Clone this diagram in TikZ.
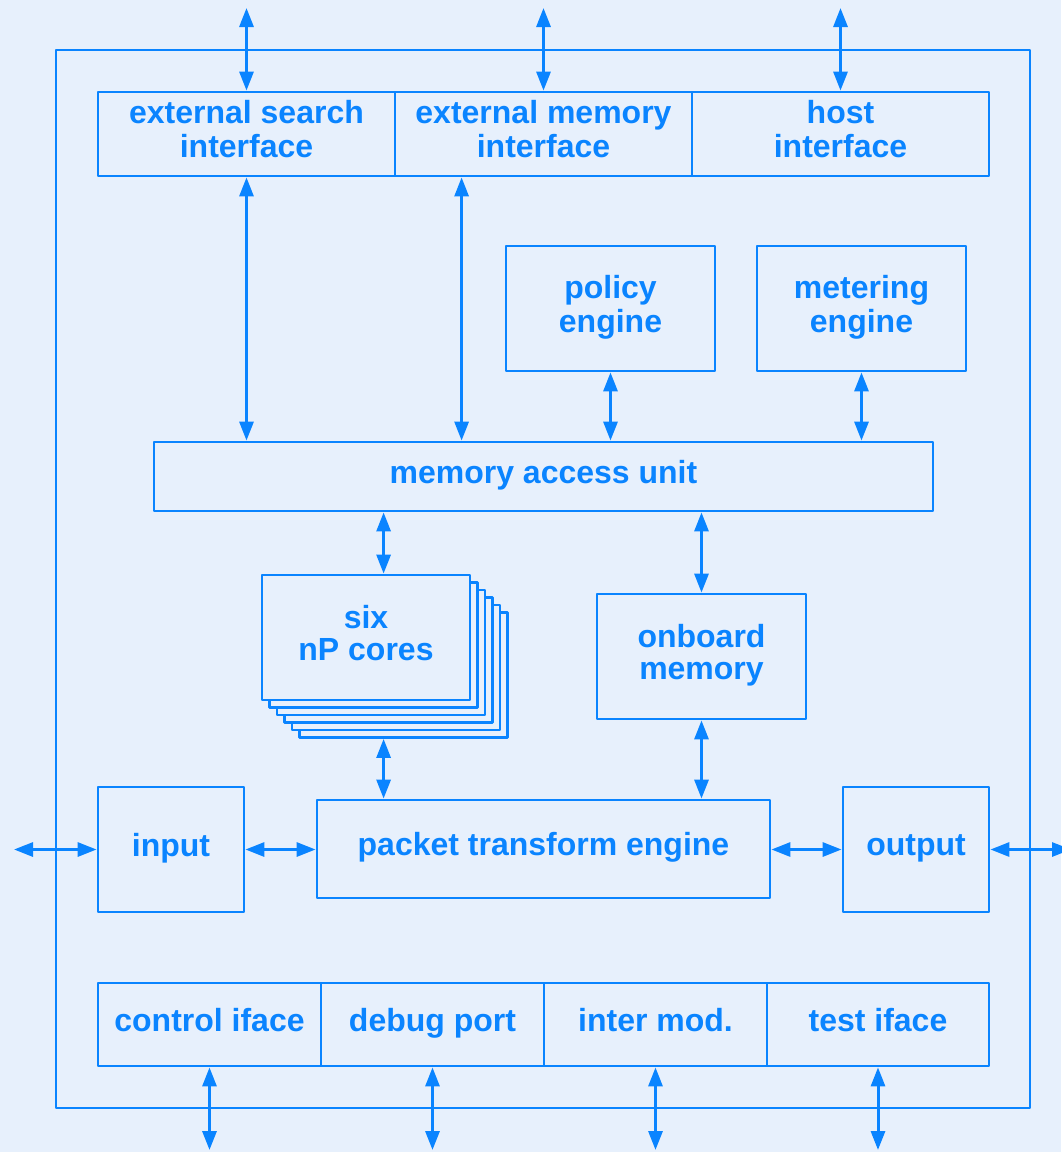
\documentclass[tikz,border=0pt]{standalone}
\usepackage{fontspec}
\setmainfont{Liberation Sans}
\usetikzlibrary{arrows.meta,calc}
\definecolor{fg}{RGB}{10,132,255}
\definecolor{bg}{RGB}{231,240,252}
\newcommand{\mybrk}{\strut\\}
\begin{document}
\begin{tikzpicture}[x=1pt,y=-1pt,
  line width=2.8pt, line join=round,
  box/.style={draw=fg, fill=bg, rectangle, inner sep=0pt, align=center, text=fg,
    font=\bfseries\fontsize{32}{32}\selectfont, execute at end node=\strut},
  conn/.style={draw=fg, line width=3pt, {Triangle[length=19pt,width=14pt]}-{Triangle[length=19pt,width=14pt]}}]
\fill[bg] (0,0) rectangle (1061,1152);
\useasboundingbox (0,0) rectangle (1061,1152);
% outer frame
\node[box, minimum width=974, minimum height=1058] (frame) at (543,579) {};
% top interfaces
\node[box, minimum width=297, minimum height=84] (es) at (246.5,134) {external search\mybrk interface};
\node[box, minimum width=297, minimum height=84] (em) at (543.5,134) {external memory\mybrk interface};
\node[box, minimum width=297, minimum height=84] (hi) at (840.5,134) {host\mybrk interface};
% engines
\node[box, minimum width=209, minimum height=125] (pol) at (610.5,308.5) {policy\mybrk engine};
\node[box, minimum width=209, minimum height=125] (met) at (861.5,308.5) {metering\mybrk engine};
% memory access unit
\node[box, minimum width=779, minimum height=69] (mau) at (543.5,476.5) {memory access unit};
% stacked cores
\foreach \k in {5,4,3,2,1}{
  \node[box, minimum width=208, minimum height=125] (core\k) at ({366+7.5*\k},{637.5+7.5*\k}) {};
}
\node[box, minimum width=208, minimum height=125] (cores) at (366,637.5) {six\mybrk nP cores};
% onboard memory
\node[box, minimum width=209, minimum height=125] (obm) at (701.5,656.5) {onboard\mybrk memory};
% packet path
\node[box, minimum width=453, minimum height=98] (pte) at (543.5,849) {packet transform engine};
\node[box, minimum width=146, minimum height=125] (inp) at (171,849.5) {input};
\node[box, minimum width=146, minimum height=125] (outp) at (916,849.5) {output};
% bottom row
\node[box, minimum width=223, minimum height=83] (ci) at (209.5,1024.5) {control iface};
\node[box, minimum width=223, minimum height=83] (dp) at (432.5,1024.5) {debug port};
\node[box, minimum width=223, minimum height=83] (im) at (655.5,1024.5) {inter mod.};
\node[box, minimum width=222, minimum height=83] (ti) at (878,1024.5) {test iface};
% free ends
\coordinate (t1) at (246.5,8);
\coordinate (t2) at (543.5,8);
\coordinate (t3) at (840.5,8);
\coordinate (lin) at (14,849.5);
\coordinate (rout) at (1071,849.5);
\coordinate (b1) at (209.5,1150);
\coordinate (b2) at (432.5,1150);
\coordinate (b3) at (655.5,1150);
\coordinate (b4) at (878,1150);
\coordinate (emx) at ([xshift=68pt]em.south west);
\coordinate (corex) at ([xshift=123pt]cores.south west);
\coordinate (corexn) at ([xshift=123pt]cores.north west);
% connectors
\draw[conn] (t1) -- (es.north);
\draw[conn] (t2) -- (em.north);
\draw[conn] (t3) -- (hi.north);
\draw[conn] (es.south) -- (es.south |- mau.north);
\draw[conn] (emx) -- (emx |- mau.north);
\draw[conn] (pol.south) -- (pol.south |- mau.north);
\draw[conn] (met.south) -- (met.south |- mau.north);
\draw[conn] (corexn |- mau.south) -- (corexn);
\draw[conn] (corex |- core5.south) -- (corex |- pte.north);
\draw[conn] (obm.north |- mau.south) -- (obm.north);
\draw[conn] (obm.south) -- (obm.south |- pte.north);
\draw[conn] (lin) -- (inp.west);
\draw[conn] (inp.east) -- (pte.west |- inp.east);
\draw[conn] (pte.east |- outp.west) -- (outp.west);
\draw[conn] (outp.east) -- (rout);
\draw[conn] (ci.south) -- (b1);
\draw[conn] (dp.south) -- (b2);
\draw[conn] (im.south) -- (b3);
\draw[conn] (ti.south) -- (b4);
\end{tikzpicture}
\end{document}
